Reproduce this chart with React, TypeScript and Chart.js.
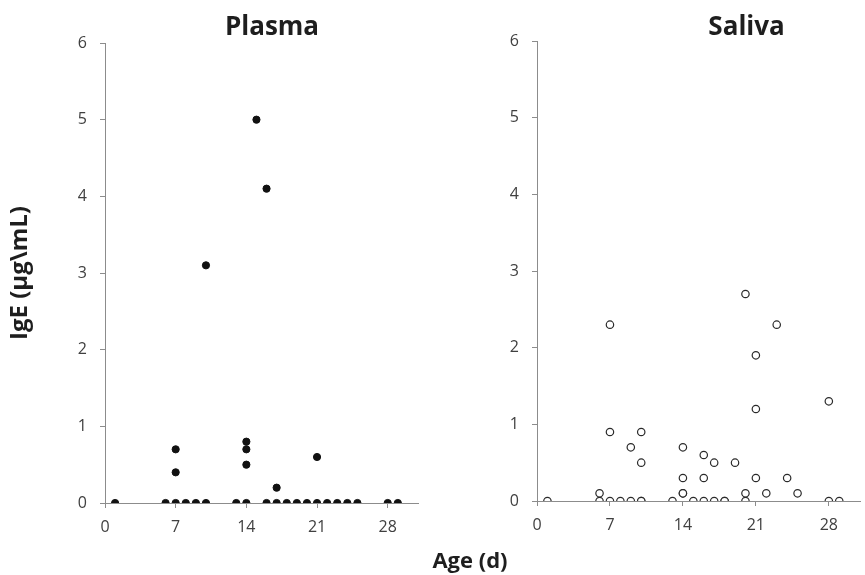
import React, { useEffect, useRef } from 'react';
import { Chart, registerables } from 'chart.js';

Chart.register(...registerables);

// Plasma IgE (µg/mL) by age (days)
const plasmaAge = [1, 6, 7, 8, 9, 10, 13, 14, 16, 17, 18, 19, 20, 21, 22, 23, 24, 25, 28, 29, 7, 7, 10, 14, 14, 14, 15, 16, 17, 21];
const plasmaIgE = [0, 0, 0, 0, 0, 0, 0, 0, 0, 0, 0, 0, 0, 0, 0, 0, 0, 0, 0, 0, 0.7, 0.4, 3.1, 0.8, 0.7, 0.5, 5.0, 4.1, 0.2, 0.6];

// Saliva IgE (µg/mL) by age (days)
const salivaAge = [1, 6, 6, 7, 7, 7, 8, 9, 9, 10, 10, 10, 10, 13, 14, 14, 14, 14, 15, 16, 16, 16, 17, 17, 18, 18, 19, 20, 20, 20, 21, 21, 21, 22, 23, 24, 25, 28, 28, 29];
const salivaIgE = [0, 0.1, 0, 2.3, 0.9, 0, 0, 0.7, 0, 0.9, 0.5, 0, 0, 0, 0.7, 0.3, 0.1, 0.1, 0, 0.6, 0.3, 0, 0.5, 0, 0, 0, 0.5, 2.7, 0.1, 0, 1.9, 1.2, 0.3, 0.1, 2.3, 0.3, 0.1, 1.3, 0, 0];

const xTicks = [0, 7, 14, 21, 28];
const yTicks = [0, 1, 2, 3, 4, 5, 6];
const xMin = 0;
const xMax = 31;
const yMin = 0;
const yMax = 6;

const panelTitles = ['Plasma', 'Saliva'];
const yAxisTitle = 'IgE (µg\\mL)';
const xAxisTitle = 'Age (d)';

const FONT = '"Open Sans", Lato, sans-serif';
const AXIS_COLOR = '#8c8c8c';
const TICK_COLOR = '#404040';
const TEXT_COLOR = '#1e1e1e';

const textPlugin = {
  id: 'panelText',
  afterDraw(chart: any, _args: any, opts: any) {
    const ctx = chart.ctx;
    const ca = chart.chartArea;
    (opts.items || []).forEach((it: any) => {
      ctx.save();
      ctx.font = it.font;
      ctx.fillStyle = it.color;
      ctx.textAlign = 'center';
      ctx.textBaseline = 'alphabetic';
      ctx.fillText(it.text, (ca.left + ca.right) / 2 + it.dx, it.y);
      ctx.restore();
    });
  },
};

function makeConfig(
  xs: number[],
  ys: number[],
  filled: boolean,
  yWidth: number,
  xHeight: number,
  padding: any,
  yTitle: string | null,
  items: any[]
): any {
  const data = xs.map((x, i) => ({ x, y: ys[i] }));
  return {
    type: 'scatter',
    data: {
      datasets: [
        {
          data,
          pointRadius: filled ? 3.6 : 3.7,
          pointHoverRadius: filled ? 3.6 : 3.7,
          pointBorderWidth: filled ? 1 : 1.2,
          pointBackgroundColor: filled ? '#111111' : '#ffffff',
          pointBorderColor: filled ? '#111111' : '#2a2a2a',
        },
      ],
    },
    options: {
      responsive: false,
      animation: false,
      events: [],
      layout: { padding },
      plugins: {
        legend: { display: false },
        tooltip: { enabled: false },
        panelText: { items },
      },
      scales: {
        x: {
          type: 'linear',
          min: xMin,
          max: xMax,
          afterBuildTicks: (s: any) => {
            s.ticks = xTicks.map((v) => ({ value: v }));
          },
          afterFit: (s: any) => {
            s.height = xHeight;
          },
          grid: {
            display: true,
            drawOnChartArea: false,
            drawTicks: true,
            tickLength: 5,
            color: AXIS_COLOR,
          },
          border: { display: true, color: AXIS_COLOR, width: 1 },
          ticks: {
            padding: 10,
            color: TICK_COLOR,
            font: { family: FONT, size: 16 },
            maxRotation: 0,
          },
        },
        y: {
          type: 'linear',
          min: yMin,
          max: yMax,
          afterBuildTicks: (s: any) => {
            s.ticks = yTicks.map((v) => ({ value: v }));
          },
          afterFit: (s: any) => {
            s.width = yWidth;
          },
          grid: {
            display: true,
            drawOnChartArea: false,
            drawTicks: true,
            tickLength: 5,
            color: AXIS_COLOR,
          },
          border: { display: true, color: AXIS_COLOR, width: 1 },
          ticks: {
            padding: 13,
            color: TICK_COLOR,
            font: { family: FONT, size: 16 },
          },
          title: yTitle
            ? {
                display: true,
                text: yTitle,
                color: TEXT_COLOR,
                font: { family: FONT, size: 24, weight: 'bold' },
                padding: { top: 6, bottom: 0 },
              }
            : { display: false },
        },
      },
    },
    plugins: [textPlugin],
  };
}

export default function App() {
  const refA = useRef<HTMLCanvasElement>(null);
  const refB = useRef<HTMLCanvasElement>(null);

  useEffect(() => {
    const chartA = new Chart(
      refA.current as HTMLCanvasElement,
      makeConfig(
        plasmaAge,
        plasmaIgE,
        true,
        105,
        72,
        { left: 0, top: 43, right: 447, bottom: 0 },
        yAxisTitle,
        [
          { text: panelTitles[0], dx: 10.5, y: 35, font: `bold 26px ${FONT}`, color: TEXT_COLOR },
          { text: xAxisTitle, dx: 208.5, y: 568, font: `bold 22px ${FONT}`, color: TEXT_COLOR },
        ]
      )
    );
    const chartB = new Chart(
      refB.current as HTMLCanvasElement,
      makeConfig(
        salivaAge,
        salivaIgE,
        false,
        87,
        74,
        { left: 0, top: 41, right: 0, bottom: 0 },
        null,
        [{ text: panelTitles[1], dx: 48, y: 35, font: `bold 26px ${FONT}`, color: TEXT_COLOR }]
      )
    );
    return () => {
      chartA.destroy();
      chartB.destroy();
    };
  }, []);

  return (
    <div style={{ position: 'absolute', left: 0, top: 0, width: 865, height: 575, background: '#ffffff' }}>
      <canvas ref={refA} width={865} height={575} style={{ position: 'absolute', left: 0, top: 0 }} />
      <canvas ref={refB} width={415} height={575} style={{ position: 'absolute', left: 450, top: 0 }} />
    </div>
  );
}
